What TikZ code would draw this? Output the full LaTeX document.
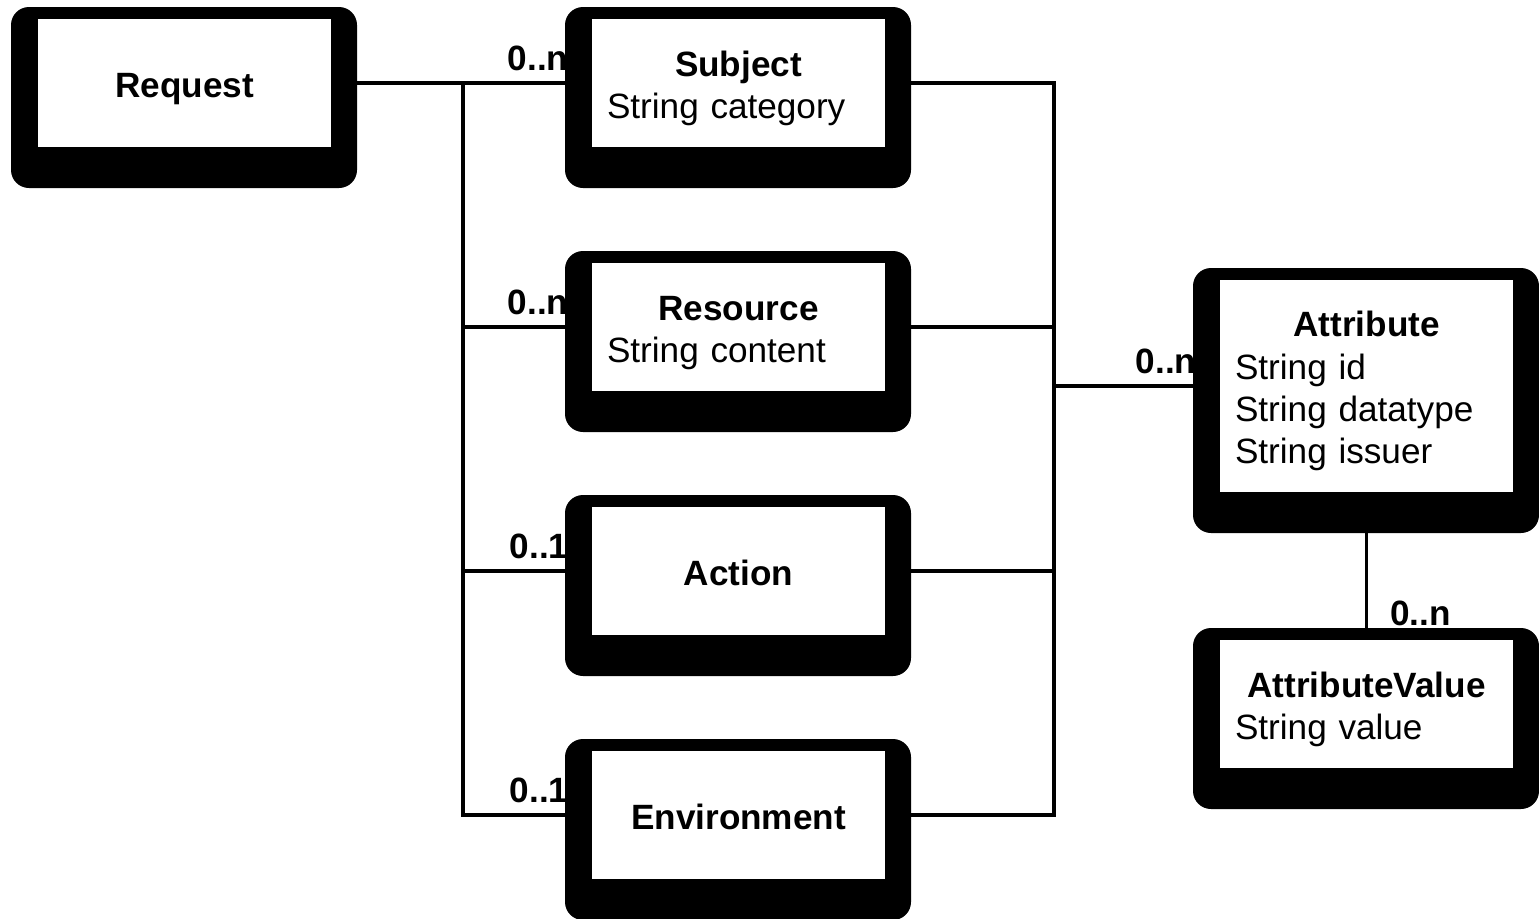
\documentclass[tikz,border=0pt]{standalone}
\usepackage{fontspec}
\setmainfont{Liberation Sans}
\usepackage{tikz}
\usetikzlibrary{positioning, backgrounds}
\pgfdeclarelayer{frame}
\pgfsetlayers{background,frame,main}

\begin{document}
\begin{tikzpicture}[
    node distance=1.16cm,
    entity/.style={rectangle, fill=white, inner xsep=0.15cm, inner ysep=0pt, outer sep=0pt, text width=2.63cm, minimum height=1.28cm, align=left,
        execute at begin node={\rule{0pt}{10.3pt}}, execute at end node={\rule[-2.25pt]{0pt}{2.25pt}}},
    frame/.style={fill=black, rounded corners=0.18cm},
    conn/.style={line width=0.9pt},
    mult/.style={font=\bfseries, inner sep=0pt},
    multl/.style={mult, pos=1, anchor=south east, xshift=-0.22cm, yshift=0.11cm}
]
    \useasboundingbox (0,0) rectangle (15.39,-9.18);

    \node[entity, align=center] (request) at (1.845,-0.83) {\textbf{Request}};
    \node[entity, right=2.61cm of request] (subject) {\makebox[\linewidth]{\textbf{Subject}}\\String category};
    \node[entity, below=of subject] (resource) {\makebox[\linewidth]{\textbf{Resource}}\\String content};
    \node[entity, below=of resource, align=center] (action) {\textbf{Action}};
    \node[entity, below=of action, align=center] (environment) {\textbf{Environment}};
    \node[entity, right=3.35cm of resource, yshift=-0.59cm, minimum height=2.12cm] (attribute) {\makebox[\linewidth]{\textbf{Attribute}}\\String id\\String datatype\\String issuer};
    \node[entity, below=1.48cm of attribute] (attrvalue) {\makebox[\linewidth]{\textbf{AttributeValue}}\\String value};

    \coordinate (lbus) at (4.63,0);
    \coordinate (rbus) at (10.54,0);

    % connectors and multiplicities under the frames
    \begin{scope}[on background layer]
        \draw[conn] (request) -- node[multl] {0..n} (subject);
        \draw[conn] (subject.west -| lbus) |- node[multl] {0..1} (environment.west);
        \draw[conn] (resource.west -| lbus) -- node[multl] {0..n} (resource.west);
        \draw[conn] (action.west -| lbus) -- node[multl] {0..1} (action.west);

        \draw[conn] (subject.east) -| (rbus |- environment.east) -- (environment.east);
        \draw[conn] (resource.east) -- (resource.east -| rbus);
        \draw[conn] (action.east) -- (action.east -| rbus);
        \draw[conn] (attribute.west -| rbus) -- node[multl] {0..n} (attribute.west);

        \draw[conn] (attribute) -- node[mult, pos=1, anchor=south west, xshift=0.22cm, yshift=0.13cm] {0..n} (attrvalue);
    \end{scope}

    \begin{pgfonlayer}{frame}
        \foreach \n in {request, subject, resource, action, environment, attribute, attrvalue}
            \fill[frame] ([shift={(-0.27,0.12)}]\n.north west) rectangle ([shift={(0.26,-0.41)}]\n.south east);
    \end{pgfonlayer}
\end{tikzpicture}
\end{document}
